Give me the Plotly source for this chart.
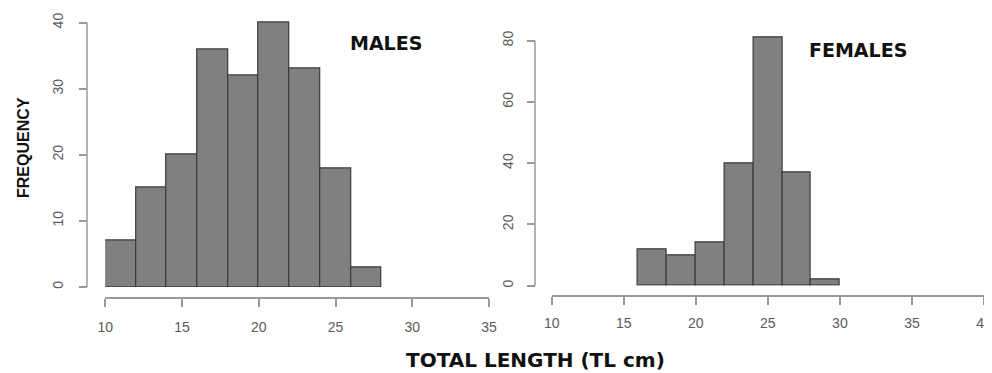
import plotly.graph_objects as go

# ---- data ----
male_bin_edges = [10, 12, 14, 16, 18, 20, 22, 24, 26, 28]
male_counts = [7, 15, 20, 36, 32, 40, 33, 18, 3]
female_bin_edges = [16, 18, 20, 22, 24, 26, 28, 30]
female_counts = [12, 10, 14, 40, 81, 37, 2]
male_xticks = [10, 15, 20, 25, 30, 35]
male_yticks = [0, 10, 20, 30, 40]
female_xticks = [10, 15, 20, 25, 30, 35, 40]
female_yticks = [0, 20, 40, 60, 80]

# the page body has an 8px margin, so the figure is drawn 8px in from the top-left
OFF = 8
W, H = 992 - OFF, 373 - OFF
def px(x):
    return (x - OFF) / W
def py(y):
    return 1 - (y - OFF) / H

def mids(edges):
    return [(a + b) / 2 for a, b in zip(edges[:-1], edges[1:])]
def widths(edges):
    return [b - a for a, b in zip(edges[:-1], edges[1:])]

bar_fill = "#808080"
bar_line = "#3a3a3a"
axis_col = "#9a9a9a"
tick_font = dict(family="Liberation Sans, Arial", size=14, color="#5a5a5a")

fig = go.Figure()
fig.add_trace(go.Bar(x=mids(male_bin_edges), y=male_counts, width=widths(male_bin_edges),
                     marker=dict(color=bar_fill, line=dict(color=bar_line, width=1.2)),
                     xaxis="x", yaxis="y", showlegend=False))
fig.add_trace(go.Bar(x=mids(female_bin_edges), y=female_counts, width=widths(female_bin_edges),
                     marker=dict(color=bar_fill, line=dict(color=bar_line, width=1.2)),
                     xaxis="x2", yaxis="y2", showlegend=False))

common_axis = dict(linecolor=axis_col, linewidth=1.5, ticks="outside",
                   ticklen=8, tickcolor=axis_col, tickwidth=1.5, showgrid=False,
                   zeroline=False, tickfont=tick_font, fixedrange=True, automargin=False)

m_scale = (287 - 22.7) / 40
f_scale = (285.7 - 40.7) / 80
m_top, f_top = 42, 84

fig.update_layout(
    width=W, height=H, margin=dict(l=0, r=0, t=0, b=0, autoexpand=False),
    paper_bgcolor="white", plot_bgcolor="white", bargap=0,
    xaxis=dict(domain=[px(105.3), px(489)], range=[10, 35], anchor="free", showline=True,
               position=py(298), tickvals=male_xticks, ticklabelstandoff=8, **common_axis),
    yaxis=dict(domain=[py(287), py(287 - m_top * m_scale)], range=[0, m_top], anchor="free",
               position=px(87), tickvals=male_yticks, tickangle=-90, showline=False,
               ticklabelstandoff=10, **common_axis),
    xaxis2=dict(domain=[px(551.7), px(984)], range=[10, 40], anchor="free", showline=True,
                position=py(296), tickvals=female_xticks, ticklabelstandoff=6, **common_axis),
    yaxis2=dict(domain=[py(285.7), py(285.7 - f_top * f_scale)], range=[0, f_top], anchor="free",
                position=px(535), tickvals=female_yticks, tickangle=-90, showline=False,
                ticklabelstandoff=8, **common_axis),
)

# y axis lines spanning only the tick range (R style)
fig.add_shape(type="line", xref="paper", yref="y", x0=px(87), x1=px(87),
              y0=male_yticks[0], y1=male_yticks[-1], line=dict(color=axis_col, width=1.5))
fig.add_shape(type="line", xref="paper", yref="y2", x0=px(535), x1=px(535),
              y0=female_yticks[0], y1=female_yticks[-1], line=dict(color=axis_col, width=1.5))

title_font = dict(family="DejaVu Sans", size=19, color="#111111", weight="bold")
fig.add_annotation(text="MALES", x=28.3, y=37, xref="x", yref="y", showarrow=False,
                   xanchor="center", yanchor="middle", font=title_font)
fig.add_annotation(text="FEMALES", x=31.26, y=77, xref="x2", yref="y2", showarrow=False,
                   xanchor="center", yanchor="middle", font=title_font)
fig.add_annotation(text="TOTAL LENGTH (TL cm)", x=px(535), y=py(360), xref="paper", yref="paper",
                   showarrow=False, xanchor="center", yanchor="middle",
                   font=dict(family="DejaVu Sans", size=20, color="#111111", weight="bold"))
fig.add_annotation(text="FREQUENCY", x=px(23), y=py(148), xref="paper", yref="paper",
                   showarrow=False, textangle=-90, xanchor="center", yanchor="middle",
                   font=dict(family="Liberation Sans, Arial", size=16, color="#111111", weight="bold"))

fig.write_html("out.html")
